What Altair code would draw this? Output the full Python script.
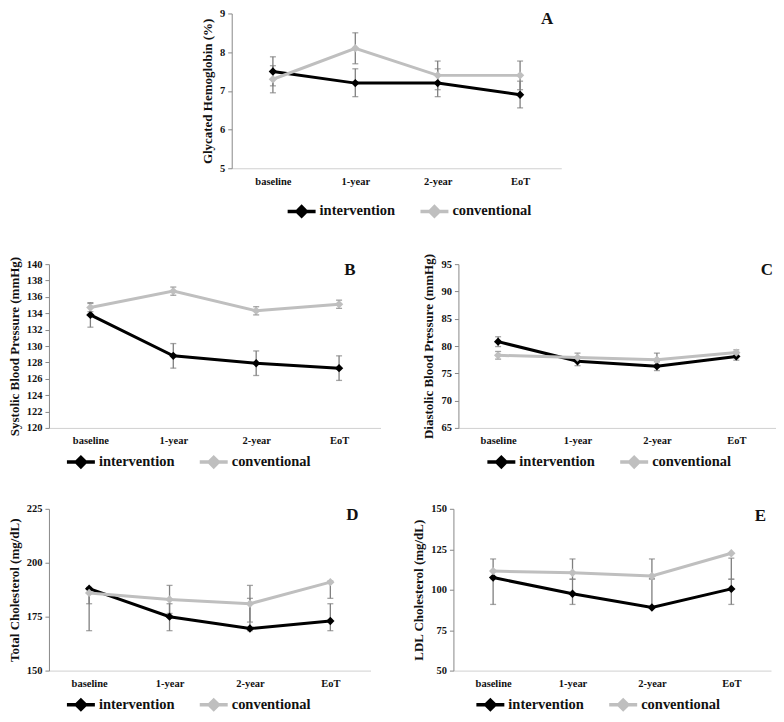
import altair as alt
import pandas as pd

cats = ["baseline", "1-year", "2-year", "EoT"]
groups = ["intervention", "conventional"]

# Panel A - Glycated Hemoglobin (%)
a_int = [7.5, 7.2, 7.2, 6.9]
a_int_lo = [7.13, 6.85, 6.85, 6.56]
a_int_hi = [7.88, 7.57, 7.57, 7.25]
a_conv = [7.3, 8.1, 7.4, 7.4]
a_conv_lo = [6.95, 7.7, 7.03, 7.03]
a_conv_hi = [7.65, 8.5, 7.77, 7.77]

# Panel B - Systolic Blood Pressure
b_int = [133.8, 128.8, 127.9, 127.3]
b_int_lo = [132.3, 127.3, 126.4, 125.8]
b_int_hi = [135.2, 130.3, 129.4, 128.8]
b_conv = [134.7, 136.7, 134.3, 135.1]
b_conv_lo = [134.2, 136.2, 133.8, 134.6]
b_conv_hi = [135.3, 137.2, 134.8, 135.6]

# Panel C - Diastolic Blood Pressure
c_int = [80.8, 77.2, 76.3, 78.1]
c_int_lo = [79.9, 76.4, 75.5, 77.4]
c_int_hi = [81.7, 78.0, 77.1, 78.8]
c_conv = [78.3, 77.9, 77.5, 78.8]
c_conv_lo = [77.6, 77.1, 76.3, 78.3]
c_conv_hi = [79.0, 78.7, 78.7, 79.3]

# Panel D - Total Cholesterol
d_int = [188.0, 175.0, 169.5, 173.0]
d_int_lo = [181.0, 168.5, 168.5, 168.5]
d_int_hi = [188.5, 181.0, 183.5, 181.0]
d_conv = [186.0, 183.0, 181.0, 191.0]
d_conv_lo = [168.5, 176.5, 172.5, 183.5]
d_conv_hi = [188.5, 189.5, 189.5, 191.5]

# Panel E - LDL Cholesterol
e_int = [107.5, 97.5, 89.0, 100.5]
e_int_lo = [90.9, 90.9, 89.0, 90.9]
e_int_hi = [107.5, 106.5, 106.7, 106.5]
e_conv = [111.5, 110.5, 108.5, 122.5]
e_conv_lo = [106.7, 106.5, 106.7, 106.5]
e_conv_hi = [119.0, 119.0, 119.0, 119.5]

SERIF = "Liberation Serif"
COL_INT = "#000000"
COL_CONV = "#bfbfbf"
ERR = "#7f7f7f"
LEG_SYMBOL = "M-1,0H1M0,-0.33L0.33,0L0,0.33L-0.33,0Z"


def frame(iv, il, ih, cv, cl, ch):
    rows = []
    for i, c in enumerate(cats):
        rows.append({"time": c, "group": "intervention", "value": iv[i], "lo": il[i], "hi": ih[i]})
        rows.append({"time": c, "group": "conventional", "value": cv[i], "lo": cl[i], "hi": ch[i]})
    return pd.DataFrame(rows)


def panel(df, letter, title, dom, step, w, h, leg_x, leg_dy, let_dx, let_dy):
    xaxis = alt.Axis(labelAngle=0, ticks=False, domainColor="#d0d0d0",
                     labelFont=SERIF, labelFontWeight="bold", labelFontSize=10.5,
                     labelColor="#111", labelPadding=8)
    xscale = alt.Scale(type="point", padding=0.5)

    def X():
        return alt.X("time:N", sort=cats, title=None, scale=xscale, axis=xaxis)

    yscale = alt.Scale(domain=dom, nice=False, zero=False)
    yaxis = alt.Axis(values=list(range(dom[0], dom[1] + 1, step)), labelOverlap=False,
                     grid=False, domainColor="#888", tickColor="#888", tickSize=4,
                     labelFont=SERIF, labelFontWeight="bold", labelFontSize=10.5, labelColor="#111",
                     labelPadding=3, titleFont=SERIF, titleFontWeight="bold", titleFontSize=13,
                     titleColor="#111", titlePadding=5)

    def Y(field):
        return alt.Y(field, scale=yscale, axis=yaxis, title=title)

    legend = alt.Legend(title=None, orient="none", direction="horizontal",
                        legendX=leg_x, legendY=h + leg_dy,
                        symbolType=LEG_SYMBOL, symbolSize=784, symbolStrokeWidth=3.5,
                        labelFont=SERIF, labelFontWeight="bold", labelFontSize=14.5,
                        labelColor="#111", columnPadding=18, labelOffset=2, padding=0)
    color = alt.Color("group:N", scale=alt.Scale(domain=groups, range=[COL_INT, COL_CONV]),
                      legend=legend)
    base = alt.Chart(df)
    line = base.mark_line(strokeWidth=3).encode(x=X(), y=Y("value:Q"), color=color)
    rule = base.mark_rule(color=ERR, strokeWidth=1.3).encode(x=X(), y=Y("lo:Q"), y2="hi:Q")
    caps = base.transform_fold(["lo", "hi"], as_=["k", "v"]).mark_tick(
        color=ERR, size=6, thickness=1.3, orient="horizontal").encode(x=X(), y=Y("v:Q"))
    pts = base.mark_point(shape="diamond", filled=True, size=70, opacity=1).encode(
        x=X(), y=Y("value:Q"), color=color)
    lab = alt.Chart(pd.DataFrame({"t": [letter]})).mark_text(
        font=SERIF, fontWeight="bold", fontSize=17, align="right", baseline="middle", color="#111").encode(
        text="t:N", x=alt.value(w - let_dx), y=alt.value(let_dy))
    return alt.layer(line, rule, caps, pts, lab).properties(width=w, height=h)


pA = panel(frame(a_int, a_int_lo, a_int_hi, a_conv, a_conv_lo, a_conv_hi), "A",
           "Glycated Hemoglobin (%)", [5, 9], 1, 330, 155, 54, 27, 8, 6)
pB = panel(frame(b_int, b_int_lo, b_int_hi, b_conv, b_conv_lo, b_conv_hi), "B",
           "Systolic Blood Pressure (mmHg)", [120, 140], 2, 332, 164, 16, 18, 25, 6)
pC = panel(frame(c_int, c_int_lo, c_int_hi, c_conv, c_conv_lo, c_conv_hi), "C",
           "Diastolic Blood Pressure (mmHg)", [65, 95], 5, 318, 164, 27, 18, 3, 6)
pD = panel(frame(d_int, d_int_lo, d_int_hi, d_conv, d_conv_lo, d_conv_hi), "D",
           "Total Cholesterol (mg/dL)", [150, 225], 25, 322, 162, 16, 18, 12, 6)
pE = panel(frame(e_int, e_int_lo, e_int_hi, e_conv, e_conv_lo, e_conv_hi), "E",
           "LDL Cholesterol (mg/dL)", [50, 150], 25, 318, 162, 21, 18, 5, 7)

spacer = alt.Chart(pd.DataFrame({"v": [0]})).mark_point(opacity=0).properties(width=152, height=10)

row1 = alt.hconcat(spacer, pA, spacing=0).resolve_scale(color="independent", y="independent", x="independent")
row2 = alt.hconcat(pB, pC, spacing=42).resolve_scale(color="independent", y="independent", x="independent")
row3 = alt.hconcat(pD, pE, spacing=42).resolve_scale(color="independent", y="independent", x="independent")

chart = alt.vconcat(row1, row2, row3, spacing=30).resolve_scale(
    color="independent", y="independent", x="independent"
).properties(padding=0).configure(background="white").configure_view(
    strokeWidth=0, stroke="transparent"
).configure_legend(labelFont=SERIF, labelFontWeight="bold")

chart.save("out.html", embed_options={"renderer": "svg", "actions": False})
